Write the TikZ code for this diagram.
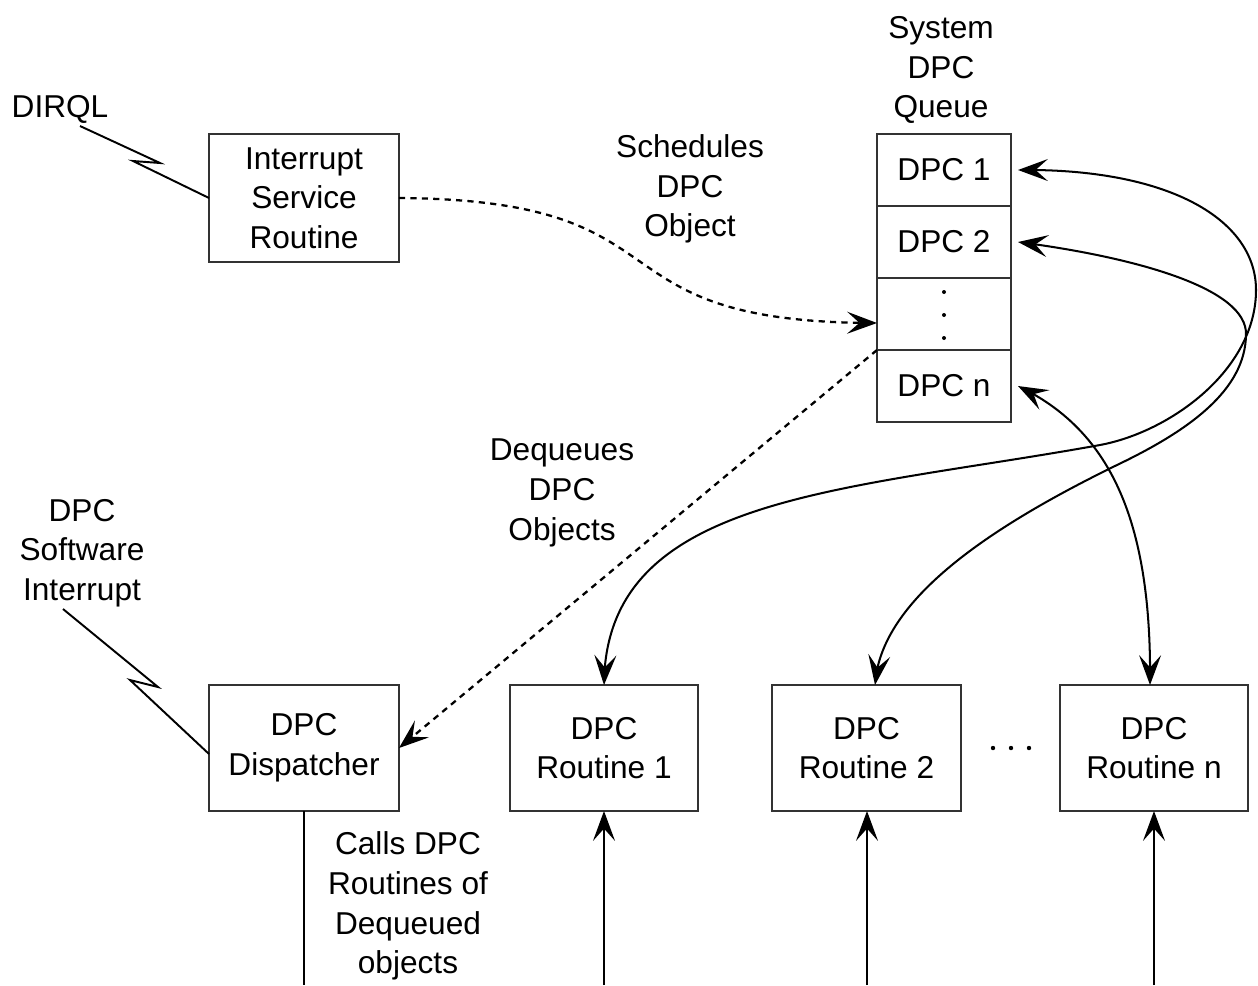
\documentclass[tikz,border=0pt]{standalone}
\usepackage{fontspec}
\setmainfont{Liberation Sans}
\usetikzlibrary{arrows.meta,bending}

\begin{document}
\begin{tikzpicture}[x=0.02cm,y=-0.02cm,
  >={Stealth[length=17pt,width=12.5pt,inset=7pt]},
  lbl/.style={align=center,font=\fontsize{18}{22.6}\selectfont,inner sep=0pt},
  box/.style={draw=black!80,line width=1.5pt,align=center,
    font=\fontsize{18}{22.6}\selectfont,inner sep=0pt,outer sep=0pt},
  cell/.style={box,minimum width=2.68cm,minimum height=1.44cm},
  lowbox/.style={box,minimum height=2.52cm},
  conn/.style={line width=1.15pt},
  dashconn/.style={line width=1.3pt,dash pattern=on 3.5pt off 3pt},
  bolt/.style={line width=1.1pt}]

\useasboundingbox (0,0) rectangle (1258,985);

% interrupt service routine
\node[box,minimum width=3.8cm,minimum height=2.56cm] (isr) at (304,198)
  {Interrupt\\Service\\Routine};

% system DPC queue
\node[lbl] (qtitle) at (941,70) {System\\DPC\\Queue};
\node[cell] (q1) at (944,170) {DPC 1};
\node[cell] (q2) at (944,242) {DPC 2};
\node[cell] (q3) at (944,314) {};
\node[cell] (qn) at (944,386) {DPC n};
\fill (944,292) circle (2);
\fill (944,315) circle (2);
\fill (944,338) circle (2);

% dispatcher and routines
\node[lowbox,minimum width=3.8cm] (disp) at (304,748) {DPC\\Dispatcher};
\node[lowbox,minimum width=3.76cm] (r1) at (604,748) {DPC\\Routine 1};
\node[lowbox,minimum width=3.78cm] (r2) at (866.5,748) {DPC\\Routine 2};
\node[lowbox,minimum width=3.76cm] (rn) at (1154,748) {DPC\\Routine n};
\fill (993,748) circle (2.2);
\fill (1011,748) circle (2.2);
\fill (1029,748) circle (2.2);

% labels
\node[lbl] (dirql) at (60,109) {DIRQL};
\node[lbl] (sched) at (690,189) {Schedules\\DPC\\Object};
\node[lbl] (deq) at (562,493) {Dequeues\\DPC\\Objects};
\node[lbl] (swi) at (82,553) {DPC\\Software\\Interrupt};
\node[lbl] (calls) at (408,906) {Calls DPC\\Routines of\\Dequeued\\objects};

% interrupt bolts
\coordinate (dq) at (80,126);
\draw[bolt] (dq) -- (160,163) -- (133,161) -- (isr.west);
\coordinate (si) at (63,609);
\draw[bolt] (si) -- (158,687) -- (130,680) -- ([yshift=-0.12cm]disp.west);

% queueing and dequeueing
\draw[dashconn,->] (isr.east) .. controls (700,200) and (580,323)
  .. ([yshift=-0.18cm]q3.west);
\draw[dashconn,->] (q3.south west) -- (disp.east);

% queue entries linked to routines
\draw[conn,<->] ([xshift=0.14cm]q1.east) .. controls (1170,168) and (1256,220)
  .. (1256,290) .. controls (1256,370) and (1170,432)
  .. (1100,445) .. controls (840,492) and (605,495) .. (r1.north);
\draw[conn,<->] ([xshift=0.14cm]q2.east) .. controls (1120,255) and (1248,285)
  .. (1246,335) .. controls (1245,390) and (1190,430)
  .. (1117,465) .. controls (990,527) and (880,600) .. ([xshift=0.17cm]r2.north);
\draw[conn,<->] ([xshift=0.14cm]qn.east) .. controls (1110,430) and (1152,520)
  .. ([xshift=-0.08cm]rn.north);

% calls from below
\coordinate (e0) at (304,985);
\coordinate (e1) at (604,985);
\coordinate (e2) at (867,985);
\coordinate (en) at (1154,985);
\draw[conn] (disp.south) -- (e0);
\draw[conn,->] (e1) -- (r1.south);
\draw[conn,->] (e2) -- (e2 |- r2.south);
\draw[conn,->] (en) -- (rn.south);
\end{tikzpicture}
\end{document}
